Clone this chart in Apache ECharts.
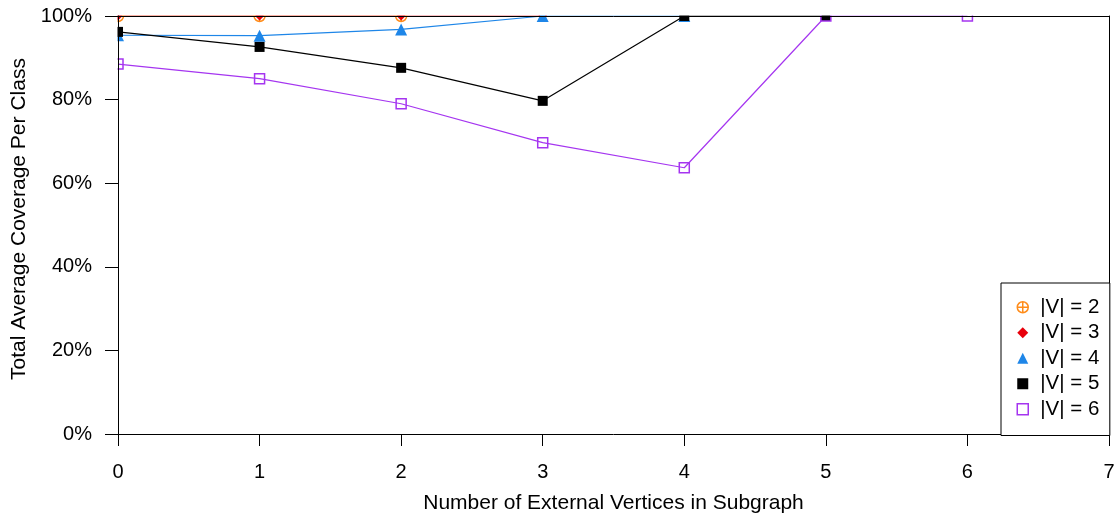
<!DOCTYPE html>
<html>
<head>
<meta charset="utf-8">
<script src="https://cdn.jsdelivr.net/npm/echarts@6/dist/echarts.min.js"></script>
<style>
html,body{margin:0;padding:0;background:#fff;}
#chart{width:1118px;height:519px;}
</style>
</head>
<body>
<div id="chart"></div>
<script>
// ---- data ----
const xTicks = [0, 1, 2, 3, 4, 5, 6, 7];
const seriesNames = ['|V| = 2', '|V| = 3', '|V| = 4', '|V| = 5', '|V| = 6'];
const v2x = [0, 1, 2];
const v2y = [100, 100, 100];
const v3x = [0, 1, 2, 3];
const v3y = [100, 100, 100, 100];
const v4x = [0, 1, 2, 3, 4];
const v4y = [95.4, 95.3, 96.8, 100, 100];
const v5x = [0, 1, 2, 3, 4, 5];
const v5y = [96.2, 92.6, 87.6, 79.7, 100, 100];
const v6x = [0, 1, 2, 3, 4, 5, 6];
const v6y = [88.5, 85.0, 79.0, 69.7, 63.7, 100, 100];
const yTickLabels = ['0%', '20%', '40%', '60%', '80%', '100%'];

const FONT = 'Liberation Sans, Arial, sans-serif';
const FS_TICK = 20;
const FS_NAME = 21;
const FS_LEG = 20.5;
const pairs = (xs, ys) => xs.map((x, i) => [x, ys[i]]);
const circlePlus = 'path://M10,0A10,10 0 1,1 10,20A10,10 0 1,1 10,0ZM10,0L10,20M0,10L20,10';

const styles = [
  {color: '#FF8C1A', symbol: circlePlus, size: 11, hollow: true},
  {color: '#E8000B', symbol: 'diamond', size: 9, hollow: false},
  {color: '#1E86E8', symbol: 'triangle', size: 12, hollow: false},
  {color: '#000000', symbol: 'rect', size: 10, hollow: false},
  {color: '#A535F0', symbol: 'rect', size: 10, hollow: true}
];
const datas = [pairs(v2x, v2y), pairs(v3x, v3y), pairs(v4x, v4y), pairs(v5x, v5y), pairs(v6x, v6y)];

const series = seriesNames.map((n, i) => {
  const s = styles[i];
  return {
    name: n,
    type: 'line',
    data: datas[i],
    z: 2,
    symbol: s.symbol,
    symbolSize: s.size,
    showAllSymbol: true,
    clip: false,
    lineStyle: {color: s.color, width: 1.2},
    itemStyle: s.hollow ? {color: 'rgba(255,255,255,0)', borderColor: s.color, borderWidth: 1.5}
                        : {color: s.color, borderWidth: 0},
    emphasis: {disabled: true},
    animation: false
  };
});

const chart = echarts.init(document.getElementById('chart'), null, {renderer: 'canvas'});
chart.setOption({
  animation: false,
  backgroundColor: '#fff',
  grid: {left: 118, right: 9, top: 16, bottom: 84},
  legend: {
    orient: 'vertical',
    left: 1001,
    top: 283,
    padding: [13.75, 10.5, 15.75, 15.5],
    itemWidth: 11,
    itemHeight: 11,
    itemGap: 4.5,
    borderColor: '#000',
    borderWidth: 1,
    backgroundColor: '#fff',
    z: 10,
    textStyle: {fontFamily: FONT, fontSize: FS_LEG, color: '#000', padding: [0, 0, 0, 7]},
    data: seriesNames.map((n, i) => ({
      name: n,
      icon: styles[i].symbol,
      itemStyle: styles[i].hollow ? {color: '#fff', borderColor: styles[i].color, borderWidth: 1.5} : {color: styles[i].color}
    })),
    selectedMode: false
  },
  graphic: [
    {type: 'rect', z: 3, silent: true, shape: {x: 0, y: 0, width: 1118, height: 15.5}, style: {fill: '#fff'}},
    {type: 'rect', z: 3, silent: true, shape: {x: 0, y: 0, width: 117.5, height: 440}, style: {fill: '#fff'}}
  ],
  xAxis: [{
    type: 'value',
    min: 0, max: 7, interval: 1,
    z: 5,
    name: 'Number of External Vertices in Subgraph',
    nameLocation: 'middle',
    nameGap: 59,
    nameTextStyle: {fontFamily: FONT, fontSize: FS_NAME, color: '#000'},
    axisLine: {show: true, onZero: false, lineStyle: {color: '#000', width: 1}},
    axisTick: {show: true, inside: false, length: 12, lineStyle: {color: '#000'}},
    axisLabel: {fontFamily: FONT, fontSize: FS_TICK, color: '#000', margin: 28,
      formatter: v => String(xTicks[Math.round(v)])},
    splitLine: {show: false}
  }, {
    type: 'value', position: 'top', min: 0, max: 7, z: 5,
    axisLine: {show: true, onZero: false, lineStyle: {color: '#000', width: 1}},
    axisTick: {show: false}, axisLabel: {show: false}, splitLine: {show: false}
  }],
  yAxis: [{
    type: 'value',
    min: 0, max: 100, interval: 20,
    z: 5,
    name: 'Total Average Coverage Per Class',
    nameLocation: 'middle',
    nameGap: 82,
    nameTextStyle: {fontFamily: FONT, fontSize: FS_NAME, color: '#000', padding: [0, 0, 0, 12]},
    axisLine: {show: true, onZero: false, lineStyle: {color: '#000', width: 1}},
    axisTick: {show: true, inside: false, length: 13, lineStyle: {color: '#000'}},
    axisLabel: {fontFamily: FONT, fontSize: FS_TICK, color: '#000', margin: 26,
      formatter: v => yTickLabels[Math.round(v / 20)]},
    splitLine: {show: false}
  }, {
    type: 'value', position: 'right', min: 0, max: 100, z: 5,
    axisLine: {show: true, onZero: false, lineStyle: {color: '#000', width: 1}},
    axisTick: {show: false}, axisLabel: {show: false}, splitLine: {show: false}
  }],
  series: series
});
</script>
</body>
</html>
